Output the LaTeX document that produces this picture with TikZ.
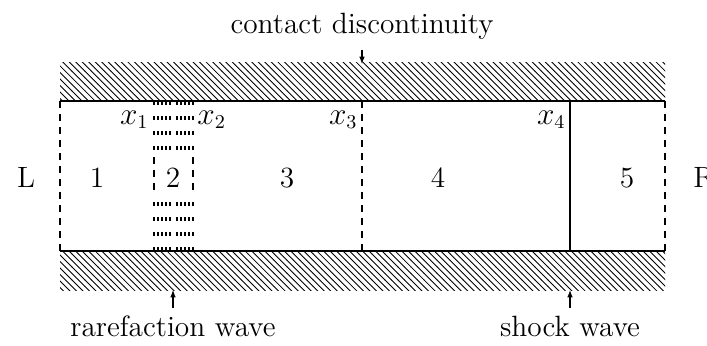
\documentclass[tikz,border=0pt]{standalone}
\usetikzlibrary{patterns,arrows.meta}
\begin{document}
\begin{tikzpicture}[x=0.46pt,y=-0.46pt,
  font=\fontsize{13.5}{16}\selectfont,
  hatch/.style={pattern=north west lines},
  wall/.style={line width=0.5pt},
  bound/.style={dash pattern=on 3pt off 3pt, line width=0.5pt},
  fan/.style={dash pattern=on 1.8pt off 5.1pt, line width=0.5pt},
  arr/.style={-{Latex[length=3.4pt,width=2.6pt]}, line width=0.5pt},
  lbl/.style={inner sep=0pt, anchor=base}]
\useasboundingbox (0,0) rectangle (707,345);
% walls (hatched)
\fill[hatch] (60,62) rectangle (665,101);
\fill[hatch] (60,251) rectangle (665,290);
\coordinate (tl) at (60,101);
\coordinate (tr) at (665,101);
\coordinate (bl) at (60,251);
\coordinate (br) at (665,251);
\draw[wall] (tl) -- (tr);
\draw[wall] (bl) -- (br);
% domain boundaries
\draw[bound] (tl) -- (bl);
\draw[bound] (tr) -- (br);
% contact discontinuity x3
\coordinate (c3t) at (362,101);
\coordinate (c3b) at (362,251);
\draw[bound] (c3t) -- (c3b);
% shock x4
\coordinate (c4t) at (570,101);
\coordinate (c4b) at (570,251);
\draw[wall] (c4t) -- (c4b);
% rarefaction fan
\foreach \x in {154,158,162,166,170,177,181,185,189,193}{
  \coordinate (ft\x) at (\x,101);
  \coordinate (fm\x) at (\x,157);
  \coordinate (fn\x) at (\x,196);
  \coordinate (fb\x) at (\x,251);
  \draw[fan] (ft\x) -- (fm\x);
  \draw[fan] (fb\x) -- (fn\x);
}
\draw[bound] (fm154) -- (fn154);
\draw[bound] (fm193) -- (fn193);
% position labels
\node[lbl, anchor=base east] (x1) at (149,124) {$x_1$};
\node[lbl, anchor=base west] (x2) at (197,124) {$x_2$};
\node[lbl, anchor=base east] (x3) at (358,124) {$x_3$};
\node[lbl, anchor=base east] (x4) at (566,124) {$x_4$};
% region labels
\node[lbl] (L) at (26,187) {L};
\node[lbl] (n1) at (97,187) {1};
\node[lbl] (n2) at (173,187) {2};
\node[lbl] (n3) at (287,187) {3};
\node[lbl] (n4) at (438,187) {4};
\node[lbl] (n5) at (627,187) {5};
\node[lbl, anchor=base west] (R) at (693,187) {R};
% wave annotations
\node[lbl] (cd) at (362,33) {contact discontinuity};
\coordinate (cdtail) at (362,50);
\coordinate (cdtip) at (362,64);
\draw[arr] (cdtail) -- (cdtip);
\node[lbl] (rw) at (173,336) {rarefaction wave};
\coordinate (rwtail) at (173,308);
\coordinate (rwtip) at (173,290);
\draw[arr] (rwtail) -- (rwtip);
\node[lbl] (sw) at (570,336) {shock wave};
\coordinate (swtail) at (570,308);
\coordinate (swtip) at (570,290);
\draw[arr] (swtail) -- (swtip);
\end{tikzpicture}
\end{document}
